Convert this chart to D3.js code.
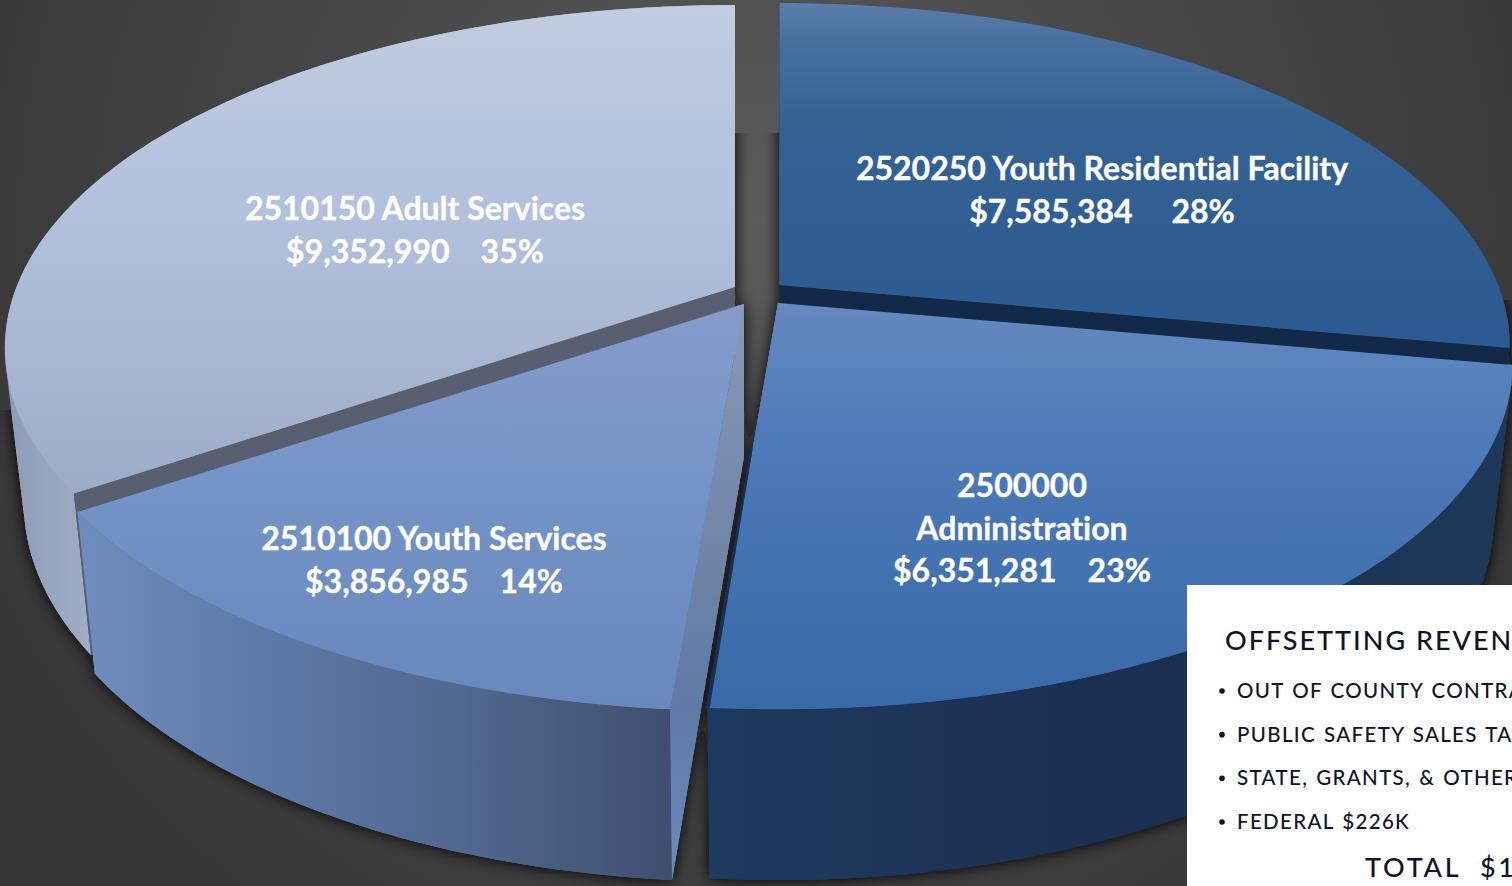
<!DOCTYPE html>
<html>
<head>
<meta charset="utf-8">
<script src="https://cdn.jsdelivr.net/npm/d3@7/dist/d3.min.js"></script>
<style>
html,body{margin:0;padding:0;background:#3a3a3a;overflow:hidden}
svg{display:block}
text{font-variant-ligatures:none}
</style>
</head>
<body>
<svg id="chart" width="1512" height="886" viewBox="0 0 1512 886"></svg>
<script>
// ---- data ----
const codes = ["2520250", "2500000", "2510100", "2510150"];
const names = ["Youth Residential Facility", "Administration", "Youth Services", "Adult Services"];
const budget = [7585384, 6351281, 3856985, 9352990];
const percents = ["28%", "23%", "14%", "35%"];
const revenueTitle = "OFFSETTING REVEN";
const revenueItems = ["OUT OF COUNTY CONTRA", "PUBLIC SAFETY SALES TA", "STATE, GRANTS, & OTHER", "FEDERAL $226K"];
const revenueTotal = "TOTAL  $1";

// ---- presentation ----
const W = 1512, Hgt = 886;
const R = 718.5, H = 332.1, P = 0.1777;      // perspective disc
const baseScaleX = 0.974, baseScaleY = 1.046, depth = 152; // lower rim of each wedge
const apex = [[779.5, 285], [778, 303], [744, 304], [735, 287]];
const sliceScale = [1, 1.006, 1.008, 1];
const sliceTurn = [0, -0.004, 0, 0];
const labelGap = [5, 4, 4, 4];
const topStops = [
  [["0", "#5b7dab"], [".12", "#47709f"], [".35", "#346293"], ["1", "#2b5a92"]],
  [["0", "#6589bf"], [".35", "#4d7ab8"], ["1", "#3869a9"]],
  [["0", "#859cca"], [".5", "#7393c7"], ["1", "#6888bb"]],
  [["0", "#c2cce0"], [".4", "#b2c1dd"], [".75", "#a7b5d1"], ["1", "#9cabc7"]]
];
const wallStops = [
  [["0", "#1c3557"], ["1", "#1c3557"]],
  [["0", "#1f3a60"], [".5", "#1b2f50"], ["1", "#1f3859"]],
  [["0", "#6f8ebf"], [".3", "#5d7ba8"], [".65", "#51688f"], ["1", "#404f70"]],
  [["0", "#8d9bb8"], ["1", "#a2aec6"]]
];
const radialColor = ["#13294a", "#1a2f50", "url(#radialWall)", "#585f70"];
const labelPos = [[1102, 180], [1022, 497], [434, 550], [415, 220]];
const shadowZones = [[700, 133, 100, 320], [0, 410, 1512, 480], [1400, 300, 112, 200]];

const svg = d3.select("#chart");
const defs = svg.append("defs");

const bg = defs.append("radialGradient").attr("id", "bg").attr("gradientUnits", "userSpaceOnUse")
  .attr("cx", 756).attr("cy", 220).attr("r", 880);
bg.selectAll("stop").data([["0", "#5c5c5c"], [".5", "#474747"], ["1", "#363636"]]).join("stop")
  .attr("offset", d => d[0]).attr("stop-color", d => d[1]);

const shadow = defs.append("filter").attr("id", "shadow").attr("filterUnits", "userSpaceOnUse")
  .attr("x", -60).attr("y", -60).attr("width", W + 120).attr("height", Hgt + 120);
shadow.append("feDropShadow").attr("dx", 0).attr("dy", 0).attr("stdDeviation", 8)
  .attr("flood-color", "#0a0a0a").attr("flood-opacity", 1);

defs.append("clipPath").attr("id", "shadowClip").selectAll("rect").data(shadowZones).join("rect")
  .attr("x", d => d[0]).attr("y", d => d[1]).attr("width", d => d[2]).attr("height", d => d[3]);

function gradient(id, stops, x1, y1, x2, y2) {
  const g = defs.append("linearGradient").attr("id", id).attr("gradientUnits", "userSpaceOnUse")
    .attr("x1", x1).attr("y1", y1).attr("x2", x2).attr("y2", y2);
  g.selectAll("stop").data(stops).join("stop")
    .attr("offset", d => d[0]).attr("stop-color", d => d[1]);
}
gradient("radialWall", [["0", "#8a99b6"], [".45", "#6f84a8"], [".7", "#5f7aa6"], ["1", "#6c8bc0"]], 0, 305, 0, 880);

const pie = d3.pie().sort(null).value(d => d).startAngle(0).endAngle(2 * Math.PI);
const arcs = pie(budget);

function project(i, angle, lower) {
  const theta = angle + sliceTurn[i];
  const u = Math.sin(theta), v = -Math.cos(theta), w = 1 - P * v;
  const xo = sliceScale[i] * R * u / w, yo = sliceScale[i] * H * v / w;
  const a = apex[i];
  return lower ? [a[0] + baseScaleX * xo, a[1] + depth + baseScaleY * yo]
               : [a[0] + xo, a[1] + yo];
}
function rim(i, d, lower) {
  const n = Math.max(8, Math.round((d.endAngle - d.startAngle) * 80));
  return d3.range(n + 1).map(k => project(i, d.startAngle + (d.endAngle - d.startAngle) * k / n, lower));
}
const line = d3.line();
function wallPath(i, d) {
  const a = rim(i, d, false), b = rim(i, d, true);
  let out = "";
  for (let k = 0; k < a.length - 1; k++) {
    let q = [a[k], a[k + 1], b[k + 1], b[k]];
    if (d3.polygonArea(q) < 0) q = q.reverse();
    out += line(q) + "Z";
  }
  return out;
}

svg.append("rect").attr("width", W).attr("height", Hgt).attr("fill", "url(#bg)");

const drawOrder = [0, 3, 1, 2];
arcs.forEach((d, i) => {
  const top = rim(i, d, false), low = rim(i, d, true), a = apex[i];
  const xs = d3.extent(top.concat(low), p => p[0]);
  const ys = d3.extent(top, p => p[1]);
  gradient("top" + i, topStops[i], 0, Math.min(ys[0], a[1]), 0, Math.max(ys[1], a[1]));
  gradient("wall" + i, wallStops[i], Math.max(xs[0], 0), 0, i === 2 ? 668 : Math.min(xs[1], i === 3 ? 95 : 1512), 0);
});

function drawPie(parent) {
  drawOrder.forEach(i => {
    const d = arcs[i], a = apex[i];
    const top = rim(i, d, false), low = rim(i, d, true);
    const g = parent.append("g");
    g.append("path").attr("d", wallPath(i, d)).attr("fill", "url(#wall" + i + ")");

    // radial wall that the exploded layout leaves visible
    const apexLow = [a[0], a[1] + depth];
    const useStart = i === 2 || i === 3;
    const radial = useStart ? [a, top[0], low[0], apexLow] : [a, top[top.length - 1], low[low.length - 1], apexLow];
    if (i !== 1) {
      g.append("path").attr("d", line(radial) + "Z").attr("fill", radialColor[i]);
    }
    g.append("path").attr("d", line([a].concat(top)) + "Z").attr("fill", "url(#top" + i + ")");

    if (i === 1) {
      // thin dark lip along the lower left edge of Administration
      const o = top[top.length - 1], f = 0.36;
      g.append("path")
        .attr("d", line([[a[0] + (o[0] - a[0]) * f - 1, a[1] + (o[1] - a[1]) * f], [o[0] - 1, o[1]], [o[0] + 1, o[1]]]) + "Z")
        .attr("fill", "#1a2f50").attr("stroke", "#1a2f50").attr("stroke-width", 2);
    }
  });
}
// soft shadow only where the reference has one, then the wedges themselves
drawPie(svg.append("g").attr("clip-path", "url(#shadowClip)").append("g").attr("filter", "url(#shadow)"));
drawPie(svg.append("g"));

// ---- wedge labels ----
const money = d3.format("$,");
const labelFont = "Lato, 'Open Sans', sans-serif";
function labelLines(i) {
  const m = money(budget[i]) + "\u00A0".repeat(labelGap[i]) + percents[i];
  return i === 1 ? [codes[i], names[i], m] : [codes[i] + " " + names[i], m];
}
const lab = svg.append("g").attr("font-family", labelFont).attr("font-weight", 700)
  .attr("font-size", 32).attr("fill", "#ffffff").attr("stroke", "#ffffff").attr("stroke-width", 0.35)
  .attr("text-anchor", "middle");
arcs.forEach((d, i) => {
  const t = lab.append("text").attr("x", labelPos[i][0]).attr("y", labelPos[i][1]);
  labelLines(i).forEach((s, k) => {
    t.append("tspan").attr("x", labelPos[i][0]).attr("dy", k ? 42.5 : 0).text(s);
  });
});

// ---- offsetting revenue box ----
const box = svg.append("g").attr("font-family", labelFont).attr("fill", "#10142a");
box.append("rect").attr("x", 1187).attr("y", 585).attr("width", 340).attr("height", 320).attr("fill", "#ffffff");
box.append("text").attr("x", 1225).attr("y", 650).attr("font-size", 27).attr("letter-spacing", 2).attr("font-weight", 500).text(revenueTitle);
const itemY = d3.scalePoint().domain(revenueItems).range([698, 829]);
revenueItems.forEach(s => {
  box.append("circle").attr("cx", 1222).attr("cy", itemY(s) - 7).attr("r", 2.8);
  box.append("text").attr("x", 1237).attr("y", itemY(s)).attr("font-size", 20.5).attr("letter-spacing", 1.35).attr("word-spacing", 1.5).attr("font-weight", 500).text(s);
});
box.append("text").attr("x", 1365).attr("y", 877).attr("font-size", 27).attr("letter-spacing", 2.8).attr("font-weight", 500).attr("xml:space", "preserve").text(revenueTotal);
</script>
</body>
</html>
